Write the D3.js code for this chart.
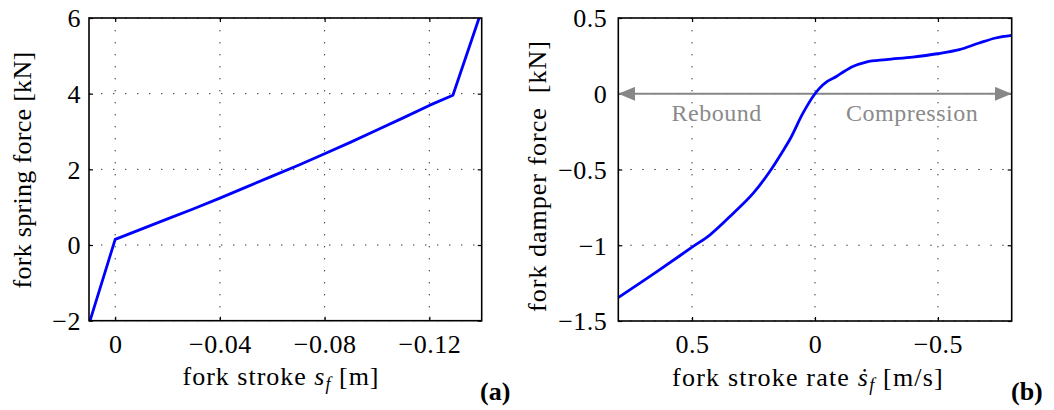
<!DOCTYPE html>
<html>
<head>
<meta charset="utf-8">
<script src="https://cdn.jsdelivr.net/npm/d3@7"></script>
<style>
  body { margin: 0; background: #fff; }
</style>
</head>
<body>
<div id="chart"></div>
<script>
// (a) fork spring: stroke [m] vs force [kN]
var springStroke = [0.0096, 0, -0.01, -0.02, -0.03, -0.04, -0.05, -0.06, -0.07, -0.08, -0.09, -0.10, -0.11, -0.12, -0.129, -0.139];
var springForce  = [-2, 0.15, 0.42, 0.69, 0.96, 1.24, 1.53, 1.82, 2.11, 2.41, 2.72, 3.04, 3.36, 3.69, 3.96, 6];

// (b) fork damper: stroke rate [m/s] vs force [kN]
var damperRate  = [0.8, 0.643, 0.5, 0.427, 0.332, 0.251, 0.184, 0.136, 0.103, 0.049, 0, -0.019, -0.05, -0.087, -0.118, -0.154, -0.208, -0.289, -0.397, -0.497, -0.587, -0.668, -0.735, -0.8];
var damperForce = [-1.345, -1.174, -1.013, -0.931, -0.788, -0.656, -0.513, -0.392, -0.304, -0.128, 0, 0.037, 0.081, 0.114, 0.147, 0.180, 0.209, 0.225, 0.242, 0.264, 0.291, 0.335, 0.368, 0.385];

var springXTicks = [0, -0.04, -0.08, -0.12];
var springYTicks = [-2, 0, 2, 4, 6];
var damperXTicks = [0.5, 0, -0.5];
var damperYTicks = [0.5, 0, -0.5, -1, -1.5];

var serif = "'Liberation Serif', 'DejaVu Serif', serif";

var svg = d3.select("#chart").append("svg")
  .attr("width", 1054)
  .attr("height", 410)
  .attr("font-family", serif)
  .style("display", "block");

var defs = svg.append("defs");
defs.append("marker").attr("id", "headEnd")
  .attr("viewBox", "0 0 17 14").attr("refX", 17).attr("refY", 7)
  .attr("markerWidth", 17).attr("markerHeight", 14)
  .attr("markerUnits", "userSpaceOnUse").attr("orient", "auto")
  .append("path").attr("d", "M0,0L17,7L0,14Z").attr("fill", "#878787");
defs.append("marker").attr("id", "headStart")
  .attr("viewBox", "0 0 17 14").attr("refX", 0).attr("refY", 7)
  .attr("markerWidth", 17).attr("markerHeight", 14)
  .attr("markerUnits", "userSpaceOnUse").attr("orient", "auto")
  .append("path").attr("d", "M17,0L0,7L17,14Z").attr("fill", "#878787");

var fmt = function(d) { return d3.format("")(d).replace("-", "\u2212"); };

function panel(opt) {
  var w = opt.x1 - opt.x0, h = opt.y1 - opt.y0;
  var x = d3.scaleLinear().domain(opt.xDomain).range([0, w]);
  var y = d3.scaleLinear().domain(opt.yDomain).range([h, 0]);
  var g = svg.append("g").attr("transform", "translate(" + opt.x0 + "," + opt.y0 + ")");

  // dotted grid
  g.selectAll(".vgrid").data(opt.xTicks).enter().append("line")
    .attr("x1", d => x(d)).attr("x2", d => x(d))
    .attr("y1", 0).attr("y2", h)
    .attr("stroke", "#333").attr("stroke-width", 1)
    .attr("stroke-dasharray", "1.4,10.6");
  g.selectAll(".hgrid").data(opt.yTicks).enter().append("line")
    .attr("x1", 0).attr("x2", w)
    .attr("y1", d => y(d)).attr("y2", d => y(d))
    .attr("stroke", "#333").attr("stroke-width", 1)
    .attr("stroke-dasharray", "1.4,10.6");

  // axes with inward ticks on all four sides
  var ax = g.append("g").attr("transform", "translate(0," + h + ")")
    .call(d3.axisBottom(x).tickValues(opt.xTicks).tickFormat(fmt).tickSizeInner(-4).tickSizeOuter(0));
  ax.selectAll("text").attr("y", 32).attr("dy", 0);
  var ay = g.append("g")
    .call(d3.axisLeft(y).tickValues(opt.yTicks).tickFormat(fmt).tickSizeInner(-4).tickSizeOuter(0));
  ay.selectAll("text").attr("x", -opt.yPad).attr("dy", "0.34em");
  [ax, ay].forEach(a => a.attr("font-family", serif).attr("font-size", 26).attr("letter-spacing", 0.5));
  g.append("g")
    .call(d3.axisTop(x).tickValues(opt.xTicks).tickFormat("").tickSizeInner(-4).tickSizeOuter(0));
  g.append("g").attr("transform", "translate(" + w + ",0)")
    .call(d3.axisRight(y).tickValues(opt.yTicks).tickFormat("").tickSizeInner(-4).tickSizeOuter(0));
  g.selectAll(".domain").remove();
  g.selectAll(".tick line").attr("stroke", "#000").attr("stroke-width", 1.2);
  g.selectAll(".tick text").attr("fill", "#000");

  if (opt.extra) opt.extra(g, x, y);

  var pts = opt.xs.map((v, i) => [v, opt.ys[i]]);
  g.append("path").datum(pts)
    .attr("fill", "none").attr("stroke", "#0000ff").attr("stroke-width", 2.8)
    .attr("stroke-linejoin", "round")
    .attr("d", d3.line().x(d => x(d[0])).y(d => y(d[1])).curve(opt.curve));

  g.append("rect").attr("width", w).attr("height", h)
    .attr("fill", "none").attr("stroke", "#000").attr("stroke-width", 1.6);
  return g;
}

panel({
  x0: 89, x1: 481.7, y0: 18, y1: 320.7, yPad: 8,
  xDomain: [0.01, -0.14], yDomain: [-2, 6],
  xTicks: springXTicks, yTicks: springYTicks,
  xs: springStroke, ys: springForce, curve: d3.curveLinear
});

panel({
  x0: 618.3, x1: 1011.7, y0: 18, y1: 321, yPad: 11,
  xDomain: [0.8, -0.8], yDomain: [-1.5, 0.5],
  xTicks: damperXTicks, yTicks: damperYTicks,
  xs: damperRate, ys: damperForce, curve: d3.curveMonotoneX,
  extra: function(g, x, y) {
    g.append("line")
      .attr("x1", x(0.8)).attr("x2", x(-0.8))
      .attr("y1", y(0)).attr("y2", y(0))
      .attr("stroke", "#878787").attr("stroke-width", 2.2)
      .attr("marker-start", "url(#headStart)").attr("marker-end", "url(#headEnd)");
    g.append("text").attr("x", x(0.4)).attr("y", y(-0.177))
      .attr("text-anchor", "middle").attr("font-size", 24).attr("fill", "#8a8a8a")
      .attr("letter-spacing", 0.5)
      .text("Rebound");
    g.append("text").attr("x", x(-0.395)).attr("y", y(-0.177))
      .attr("text-anchor", "middle").attr("font-size", 24).attr("fill", "#8a8a8a")
      .attr("letter-spacing", 0.5)
      .text("Compression");
  }
});

// axis titles
var xl1 = svg.append("text").attr("x", 281).attr("y", 385)
  .attr("text-anchor", "middle").attr("font-size", 26).attr("letter-spacing", 1);
xl1.append("tspan").text("fork stroke ");
xl1.append("tspan").attr("font-style", "italic").text("s");
xl1.append("tspan").attr("font-style", "italic").attr("font-size", 18).attr("dy", 5).text("f");
xl1.append("tspan").attr("dy", -5).text(" [m]");

var xl2 = svg.append("text").attr("x", 808).attr("y", 386)
  .attr("text-anchor", "middle").attr("font-size", 26).attr("letter-spacing", 1.2);
xl2.append("tspan").text("fork stroke rate ");
xl2.append("tspan").attr("font-style", "italic").text("\u1E61");
xl2.append("tspan").attr("font-style", "italic").attr("font-size", 18).attr("dy", 5).text("f");
xl2.append("tspan").attr("dy", -5).text(" [m/s]");

svg.append("text").attr("transform", "translate(31,170) rotate(-90)")
  .attr("text-anchor", "middle").attr("font-size", 26).attr("letter-spacing", 0.3)
  .text("fork spring force [kN]");
svg.append("text").attr("transform", "translate(546,176) rotate(-90)")
  .attr("text-anchor", "middle").attr("font-size", 26).attr("letter-spacing", 1)
  .text("fork damper force\u2002[kN]");

svg.append("text").attr("x", 480).attr("y", 400)
  .attr("font-size", 26).attr("font-weight", "bold").text("(a)");
svg.append("text").attr("x", 1011).attr("y", 400)
  .attr("font-size", 26).attr("font-weight", "bold").text("(b)");
</script>
</body>
</html>
